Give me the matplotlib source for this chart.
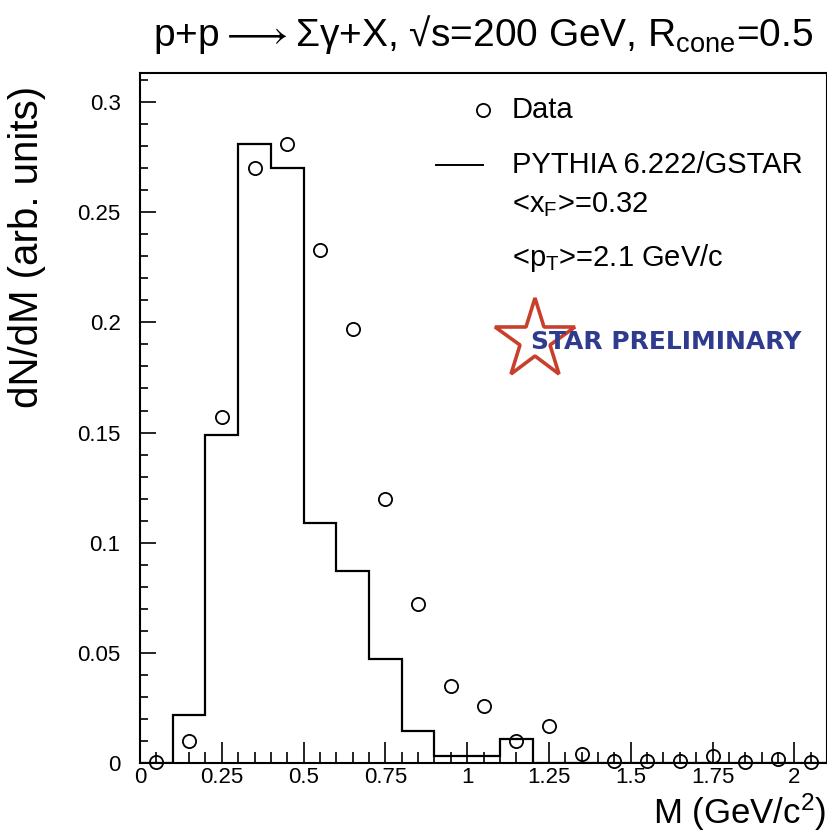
import numpy as np
import matplotlib
matplotlib.use('Agg')
import matplotlib.pyplot as plt
from matplotlib.ticker import MultipleLocator, FixedFormatter, FixedLocator

plt.rcParams['font.family'] = ['Liberation Sans', 'DejaVu Sans']
plt.rcParams['mathtext.default'] = 'regular'

# invariant mass bins (GeV/c^2)
bin_edges = np.round(np.arange(0.0, 2.1001, 0.1), 2)
mass_centers = np.round(bin_edges[:-1] + 0.05, 2)

# STAR data points
data_vals = [0.0005, 0.010, 0.157, 0.270, 0.281, 0.233, 0.197, 0.120, 0.072,
             0.035, 0.026, 0.010, 0.017, 0.004, 0.001, 0.001, 0.001, 0.003,
             0.0005, 0.002, 0.0005]

# PYTHIA 6.222/GSTAR histogram
pythia_vals = [0.0, 0.022, 0.149, 0.281, 0.270, 0.109, 0.087, 0.047, 0.0145,
               0.003, 0.003, 0.011, 0.0, 0.0, 0.0, 0.0, 0.0, 0.0, 0.0, 0.0, 0.0]

x_ticks = [0, 0.25, 0.5, 0.75, 1, 1.25, 1.5, 1.75, 2]
x_tick_labels = ['0', '0.25', '0.5', '0.75', '1', '1.25', '1.5', '1.75', '2']
y_ticks = [0, 0.05, 0.1, 0.15, 0.2, 0.25, 0.3]
y_tick_labels = ['0', '0.05', '0.1', '0.15', '0.2', '0.25', '0.3']

fig = plt.figure(figsize=(8.27, 8.33), dpi=100)
ax = fig.add_axes([140 / 827, 70 / 833, 687 / 827, 690 / 833])

ax.stairs(pythia_vals, bin_edges, color='black', linewidth=1.6, baseline=0)
ax.plot(mass_centers, data_vals, 'o', markersize=9.5, markerfacecolor='none',
        markeredgecolor='black', markeredgewidth=1.3, clip_on=False)

ax.set_xlim(0, 2.1)
ax.set_ylim(0, 0.3132)

ax.xaxis.set_major_locator(FixedLocator(x_ticks))
ax.xaxis.set_major_formatter(FixedFormatter(x_tick_labels))
ax.xaxis.set_minor_locator(MultipleLocator(0.05))
ax.yaxis.set_major_locator(FixedLocator(y_ticks))
ax.yaxis.set_major_formatter(FixedFormatter(y_tick_labels))
ax.yaxis.set_minor_locator(MultipleLocator(0.01))

ax.tick_params(which='both', direction='in', top=False, right=False,
               labelsize=16, width=1.2)
ax.tick_params(axis='x', which='major', length=15, pad=3)
ax.tick_params(axis='x', which='minor', length=8)
ax.tick_params(axis='y', which='major', length=11.5, pad=14)
ax.tick_params(axis='y', which='minor', length=6)
for sp in ax.spines.values():
    sp.set_linewidth(1.5)

ax.set_ylabel('dN/dM (arb. units)', fontsize=29)
ax.yaxis.set_label_coords(-0.137, 0.748)
fig.text(0.999, 0.0, 'M (GeV/c$^{2}$)', fontsize=25, ha='right', va='bottom')

fig.text(0.584, 0.958, r'p+p$\longrightarrow\Sigma\gamma$+X, √s=200 GeV, R$_{cone}$=0.5',
         fontsize=28, ha='center', va='center')

# legend drawn by hand in data coordinates
ax.plot([1.049], [0.2964], 'o', markersize=9.5, markerfacecolor='none',
        markeredgecolor='black', markeredgewidth=1.3)
ax.text(1.137, 0.2964, 'Data', fontsize=21, va='center')
ax.plot([0.905, 1.049], [0.2714, 0.2714], color='black', linewidth=1.4)
ax.text(1.137, 0.2714, 'PYTHIA 6.222/GSTAR', fontsize=21, va='center')
ax.text(1.137, 0.2533, '<x$_{F}$>=0.32', fontsize=21, va='center')
ax.text(1.137, 0.2292, '<p$_{T}$>=2.1 GeV/c', fontsize=21, va='center')

# STAR preliminary logo
ax.plot([1.207], [0.192], marker='*', markersize=60, markerfacecolor='white',
        markeredgecolor='#c8402c', markeredgewidth=2.6)
ax.text(1.195, 0.191, 'STAR PRELIMINARY', fontsize=18, fontweight='bold',
        color='#2e3b8f', va='center', family=['DejaVu Sans'])

fig.savefig('out.png', dpi=100)
